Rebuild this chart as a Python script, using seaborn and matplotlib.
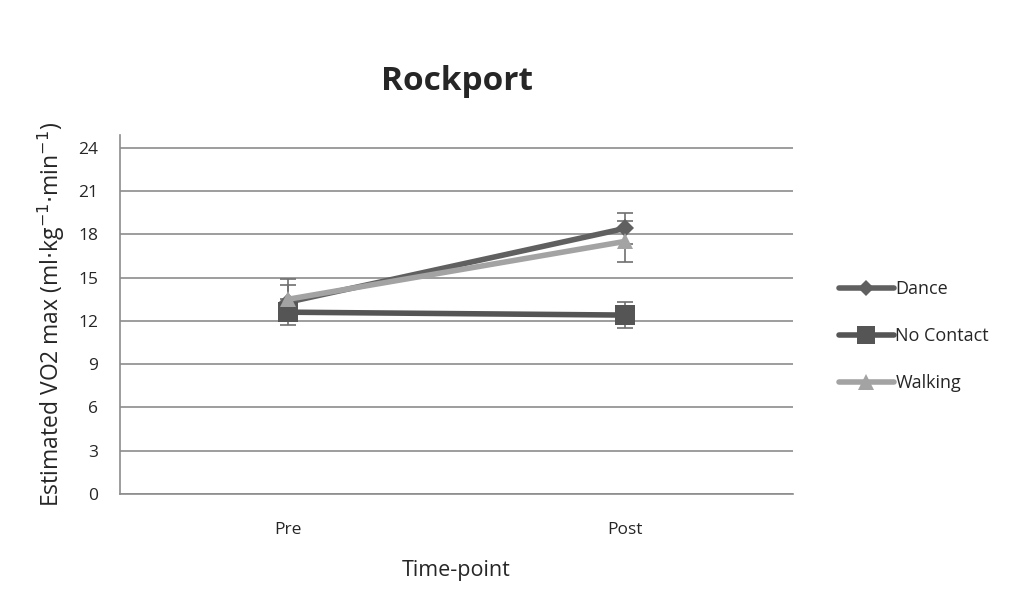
import numpy as np
import pandas as pd
import seaborn as sns
import matplotlib.pyplot as plt
from matplotlib.lines import Line2D

timepoints = ["Pre", "Post"]
groups = ["Dance", "No Contact", "Walking"]
dance = [13.3, 18.4]
dance_err = [1.2, 1.1]
no_contact = [12.6, 12.4]
no_contact_err = [0.9, 0.9]
walking = [13.5, 17.5]
walking_err = [1.4, 1.4]

colors = {"Dance": "#606060", "No Contact": "#555555", "Walking": "#a3a3a3"}
markers = {"Dance": "D", "No Contact": "s", "Walking": "^"}
msizes = {"Dance": 9, "No Contact": 14, "Walking": 12}

rows = []
for g, m, e in zip(groups, [dance, no_contact, walking], [dance_err, no_contact_err, walking_err]):
    for i, t in enumerate(timepoints):
        rows.append({"group": g, "time": t, "pos": i + 0.5, "mean": m[i], "err": e[i]})
df = pd.DataFrame(rows)

sns.set_style("white")
plt.rcParams['font.family'] = ['Open Sans', 'DejaVu Sans']

fig = plt.figure(figsize=(10.10, 5.92), dpi=100)
ax = fig.add_axes([0.119, 0.1655, 0.666, 0.607])

sns.lineplot(data=df, x="pos", y="mean", hue="group", style="group",
             markers=markers, dashes=False, palette=colors, linewidth=4,
             markersize=9, markeredgewidth=0, ax=ax, legend=False, zorder=3)
for line, g in zip(list(ax.lines), groups):
    line.set_markersize(msizes[g])

for g in groups:
    sub = df[df["group"] == g]
    ax.errorbar(sub["pos"], sub["mean"], yerr=sub["err"], fmt="none",
                ecolor="#707070", elinewidth=1.2, capsize=6, capthick=1.2, zorder=2)

ax.set_xlim(0, 2)
ax.set_ylim(0, 24.9)
ax.set_yticks(np.arange(0, 25, 3))
ax.yaxis.grid(True, color="#8c8c8c", linewidth=1.2)
ax.set_axisbelow(True)
ax.set_xticks([0, 1, 2])
ax.set_xticklabels([])
ax.set_xticks([0.5, 1.5], minor=True)
ax.set_xticklabels(timepoints, minor=True, fontsize=12.5)
ax.tick_params(axis="x", which="major", direction="out", length=6, color="#8c8c8c", width=1.2)
ax.tick_params(axis="x", which="minor", length=0, pad=20)
ax.tick_params(axis="y", direction="out", length=6, color="#8c8c8c", width=1.2, labelsize=12.5, pad=10)
for s in ["top", "right"]:
    ax.spines[s].set_visible(False)
for s in ["left", "bottom"]:
    ax.spines[s].set_color("#8c8c8c")
    ax.spines[s].set_linewidth(1.2)

ax.set_xlabel("Time-point", fontsize=15.5, labelpad=16)
ax.set_ylabel("Estimated VO2 max (ml$\\cdot$kg$^{-1}$$\\cdot$min$^{-1}$)", fontsize=16.5, labelpad=8)
ax.set_title("Rockport", fontsize=24, fontweight="bold", pad=32)

handles = [Line2D([0], [0], color=colors[g], lw=4, marker=markers[g],
                  markersize=msizes[g] - 1, markeredgewidth=0) for g in groups]
fig.legend(handles, groups, loc="center left", bbox_to_anchor=(0.815, 0.432),
           frameon=False, fontsize=13, handlelength=3, handletextpad=0.1,
           labelspacing=1.6)

fig.savefig("out.png", dpi=100)
